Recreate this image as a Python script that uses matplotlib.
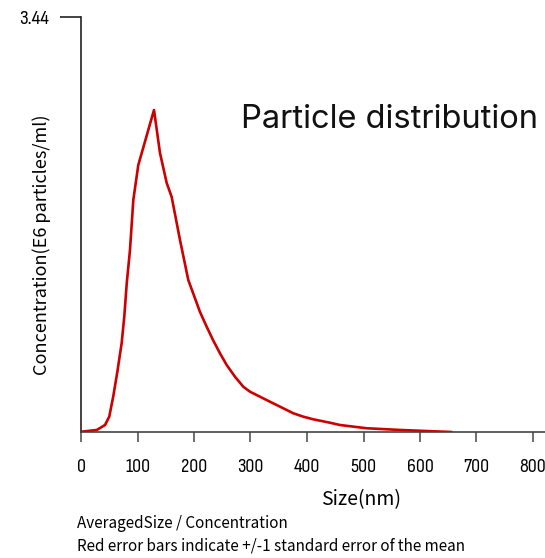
import matplotlib
matplotlib.use("Agg")
import matplotlib.pyplot as plt

# Data
size_nm = [0, 28, 42.5, 50, 57, 64, 72, 76.6, 81, 86.7, 92.6, 101.4, 129.2,
           139.8, 151.7, 160.5, 175.2, 189.9, 210.6, 222.4, 233.6, 246,
           257.9, 272.6, 287.3, 299.1, 334.5, 352.2, 375.8, 393.5, 411.2,
           440.7, 458.4, 505.7, 564.6, 623, 656]
concentration = [0.002, 0.017, 0.058, 0.127, 0.293, 0.489, 0.738, 0.956,
                 1.235, 1.509, 1.923, 2.213, 2.669, 2.313, 2.064, 1.948,
                 1.592, 1.260, 0.995, 0.873, 0.763, 0.652, 0.555, 0.458,
                 0.375, 0.334, 0.251, 0.210, 0.155, 0.127, 0.105, 0.077,
                 0.058, 0.031, 0.017, 0.006, 0.0]
x_ticks = [0, 100, 200, 300, 400, 500, 600, 700, 800]
y_ticks = [3.44]
y_tick_labels = ["3.44"]

title = "Particle distribution"
xlabel = "Size(nm)"
ylabel = "Concentration(E6 particles/ml)"
footer1 = "AveragedSize / Concentration"
footer2 = "Red error bars indicate +/-1 standard error of the mean"

narrow = ["Sofia Sans Condensed", "Barlow Condensed", "DejaVu Sans"]
jp = ["Noto Sans CJK JP", "DejaVu Sans"]

W, H = 545, 558
fig = plt.figure(figsize=(W / 100, H / 100), dpi=100)
ax = fig.add_axes([81 / W, 1 - 432 / H, (W - 81) / W, (432 - 17) / H])

ax.plot(size_nm, concentration, color="#CC0000", lw=1.9,
        solid_joinstyle="round", solid_capstyle="round")

ax.set_xlim(0, (W - 81) / 0.565)
ax.set_ylim(0, 3.44)
ax.set_xticks(x_ticks)
ax.set_xticklabels([str(t) for t in x_ticks], family=narrow, fontsize=14.5)
ax.set_yticks(y_ticks)
ax.set_yticklabels(y_tick_labels, family=narrow, fontsize=15)

for s in ["top", "right"]:
    ax.spines[s].set_visible(False)
ax.spines["left"].set_color("#222222")
ax.spines["bottom"].set_color("#444444")
ax.spines["left"].set_linewidth(1.2)
ax.spines["bottom"].set_linewidth(1.2)
ax.tick_params(axis="x", direction="out", length=7.2, width=1.2, color="#555555", pad=11.5)
ax.tick_params(axis="y", direction="out", length=15, width=1.2, color="#222222", pad=8)

fig.text(538 / W, 1 - 119 / H, title, fontsize=23.5, family=["Inter", "DejaVu Sans"],
         ha="right", va="center", color="#111111")
fig.text(361 / W, 1 - 500 / H, xlabel, fontsize=14, family=jp, ha="center", va="center")
fig.text(42 / W, 1 - 245 / H, ylabel, fontsize=13, family=jp, ha="center", va="center",
         rotation=90)
fig.text(77 / W, 1 - 523 / H, footer1, fontsize=11, family=jp, ha="left", va="center")
fig.text(77 / W, 1 - 546 / H, footer2, fontsize=11, family=jp, ha="left", va="center")

fig.savefig("out.png", dpi=100)
